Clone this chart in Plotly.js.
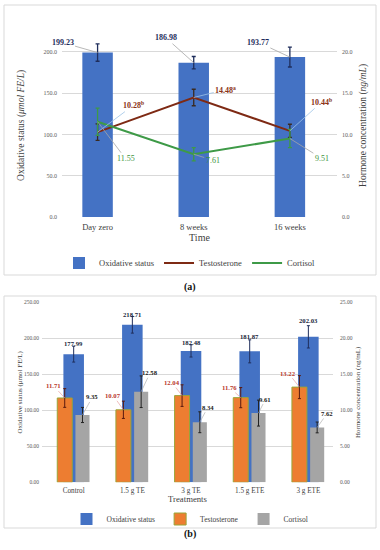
<!DOCTYPE html>
<html>
<head>
<meta charset="utf-8">
<script src="https://cdn.plot.ly/plotly-3.0.1.min.js"></script>
<style>html,body{margin:0;padding:0;background:#fff}#chart{width:380px;height:550px}</style>
</head>
<body>
<div id="chart"></div>
<script>
// ---- Panel (a) data ----
const timeCats = ['Day zero', '8 weeks', '16 weeks'];
const oxA = [199.23, 186.98, 193.77];
const oxAErr = [10.5, 7.5, 12];
const testoA = [10.28, 14.48, 10.44];
const testoAErr = [1.0, 1.0, 0.8];
const testoASup = ['b', 'a', 'b'];
const cortA = [11.55, 7.61, 9.51];
const cortAErr = [1.65, 0.8, 1.1];

// ---- Panel (b) data ----
const treatCats = ['Control', '1.5 g TE', '3 g TE', '1.5 g ETE', '3 g ETE'];
const oxB = [177.99, 218.71, 182.48, 181.87, 202.03];
const oxBErr = [11, 11.5, 8.5, 16, 15.5];
const testoB = [11.71, 10.07, 12.04, 11.76, 13.22];
const testoBErr = [1.3, 1.2, 1.5, 1.4, 1.6];
const cortB = [9.35, 12.58, 8.34, 9.61, 7.62];
const cortBErr = [1.05, 2.2, 1.45, 1.8, 0.75];

const FONT = 'Liberation Serif, Times New Roman, serif';
const BLUE = '#4472C4', ORANGE = '#ED7D31', GRAY = '#A5A5A5';
const BROWN = '#7E2A14', GREEN = '#3E9A47';
const NAVY = '#1F2E5C';

// bar geometry for panel (b) (style only)
const wBlue = 0.35, offBlue = -0.175;
const wOr = 0.255, offOr = -0.28;
const wGr = 0.24, offGr = 0.03;

const traces = [
  {type: 'bar', name: 'Oxidative status', x: timeCats, y: oxA, xaxis: 'x', yaxis: 'y',
   width: 0.317, marker: {color: BLUE},
   error_y: {type: 'data', array: oxAErr, visible: true, color: NAVY, thickness: 1.3, width: 2},
   legend: 'legend'},
  {type: 'scatter', mode: 'lines', name: 'Testosterone', x: timeCats, y: testoA, xaxis: 'x', yaxis: 'y2',
   line: {color: BROWN, width: 2},
   error_y: {type: 'data', array: testoAErr, visible: true, color: '#3a2a20', thickness: 1.3, width: 2},
   legend: 'legend'},
  {type: 'scatter', mode: 'lines', name: 'Cortisol', x: timeCats, y: cortA, xaxis: 'x', yaxis: 'y2',
   line: {color: GREEN, width: 2},
   error_y: {type: 'data', array: cortAErr, visible: true, color: GREEN, thickness: 1.3, width: 2},
   legend: 'legend'},

  {type: 'bar', name: 'Oxidative status', x: treatCats, y: oxB, xaxis: 'x2', yaxis: 'y3',
   width: wBlue, offset: offBlue, marker: {color: BLUE},
   error_y: {type: 'data', array: oxBErr, visible: true, color: NAVY, thickness: 1, width: 1.5},
   legend: 'legend2'},
  {type: 'bar', name: 'Testosterone', x: treatCats, y: testoB, xaxis: 'x2', yaxis: 'y4',
   width: wOr, offset: offOr, marker: {color: ORANGE, line: {color: '#9AA538', width: 1}},
   error_y: {type: 'data', array: testoBErr, visible: true, color: '#5a1a10', thickness: 1, width: 1.5},
   legend: 'legend2'},
  {type: 'bar', name: 'Cortisol', x: treatCats, y: cortB, xaxis: 'x2', yaxis: 'y4',
   width: wGr, offset: offGr, marker: {color: GRAY},
   error_y: {type: 'data', array: cortBErr, visible: true, color: '#222', thickness: 1, width: 1.5},
   legend: 'legend2'}
];

const annotations = [];
// panel (a) labels
const oxAOff = [[-35, -10], [-28, -25], [-32, -15]];
oxA.forEach((v, i) => annotations.push({
  xref: 'x', yref: 'y', x: i, y: v, text: v.toFixed(2), showarrow: true, arrowhead: 0,
  arrowwidth: 0.8, arrowcolor: '#A6A6A6', ax: oxAOff[i][0], ay: oxAOff[i][1],
  font: {family: FONT, size: 8, color: NAVY, weight: 'bold'}
}));
const testoAOff = [[36, -27], [32, -8], [32, -29]];
testoA.forEach((v, i) => annotations.push({
  xref: 'x', yref: 'y2', x: i, y: v, text: v.toFixed(2) + '<sup>' + testoASup[i] + '</sup>',
  showarrow: true, arrowhead: 0, arrowwidth: 0.8, arrowcolor: '#9DC3E6',
  ax: testoAOff[i][0], ay: testoAOff[i][1],
  font: {family: FONT, size: 8, color: '#8A3216', weight: 'bold'}
}));
const cortAOff = [[28, 37], [19, 6], [32, 20]];
cortA.forEach((v, i) => annotations.push({
  xref: 'x', yref: 'y2', x: i, y: v, text: v.toFixed(2), showarrow: true, arrowhead: 0,
  arrowwidth: 0.8, arrowcolor: '#A6A6A6', ax: cortAOff[i][0], ay: cortAOff[i][1],
  font: {family: FONT, size: 8, color: '#3C9440'}
}));

// panel (b) labels
const oxBShift = [11, 10, 8, 15, 16];
oxB.forEach((v, i) => annotations.push({
  xref: 'x2', yref: 'y3', x: i, y: v, text: v.toFixed(2), showarrow: false,
  yshift: oxBShift[i], font: {family: FONT, size: 6.7, color: '#1a1f3a', weight: 'bold'}
}));
const testoBOff = [[-11, -12], [-10, -14], [-10, -13], [-11, -10], [-11, -14]];
testoB.forEach((v, i) => annotations.push({
  xref: 'x2', yref: 'y4', x: i + offOr + wOr / 2, y: v, text: v.toFixed(2), showarrow: true,
  arrowhead: 0, arrowwidth: 0.7, arrowcolor: '#E8A0A0', ax: testoBOff[i][0], ay: testoBOff[i][1],
  font: {family: FONT, size: 6.7, color: '#B8362A', weight: 'bold'}
}));
const cortBOff = [[10, -18], [9, -19], [8, -15], [7, -14], [10, -14]];
cortB.forEach((v, i) => annotations.push({
  xref: 'x2', yref: 'y4', x: i + offGr + wGr / 2, y: v, text: v.toFixed(2), showarrow: true,
  arrowhead: 0, arrowwidth: 0.7, arrowcolor: '#B0B0B0', ax: cortBOff[i][0], ay: cortBOff[i][1],
  font: {family: FONT, size: 6.7, color: '#1a1a1a', weight: 'bold'}
}));

// captions
annotations.push({xref: 'paper', yref: 'paper', x: 0.5, y: 1 - 287 / 550, text: '<b>(a)</b>',
  showarrow: false, font: {family: FONT, size: 10, color: '#111'}});
annotations.push({xref: 'paper', yref: 'paper', x: 0.5, y: 1 - 541.5 / 550, text: '<b>(b)</b>',
  showarrow: false, font: {family: FONT, size: 10, color: '#111'}});

const tickFontA = {family: FONT, size: 6, color: '#595959'};
const tickFontB = {family: FONT, size: 5.5, color: '#595959'};

const layout = {
  width: 380, height: 550,
  margin: {l: 0, r: 0, t: 0, b: 0},
  paper_bgcolor: '#fff', plot_bgcolor: 'rgba(0,0,0,0)',
  barmode: 'overlay',
  font: {family: FONT, color: '#404040'},
  showlegend: true,
  xaxis: {domain: [62 / 380, 337 / 380], anchor: 'y', type: 'category', range: [-0.37, 2.49],
    showgrid: false, zeroline: false, showline: false, ticks: '', ticklabelstandoff: 3,
    tickfont: {family: FONT, size: 8.5, color: '#404040'},
    title: {text: 'Time', font: {family: FONT, size: 10, color: '#404040'}, standoff: 3}},
  yaxis: {domain: [1 - 217 / 550, 1 - 33.8 / 550], anchor: 'x', range: [0, 222],
    tickvals: [0, 50, 100, 150, 200], tickformat: '.1f', gridcolor: '#D9D9D9', gridwidth: 1,
    zeroline: false, showline: false, ticks: '', tickfont: tickFontA, ticklabelstandoff: 4,
    title: {text: 'Oxidative status (<i>μmol FE/L</i>)', font: {family: FONT, size: 9.5, color: '#404040'}, standoff: 17}},
  yaxis2: {overlaying: 'y', side: 'right', anchor: 'x', range: [0, 22.2],
    tickvals: [0, 5, 10, 15, 20], tickformat: '.1f', showgrid: false, zeroline: false,
    ticks: '', tickfont: tickFontA, ticklabelstandoff: 4,
    title: {text: 'Hormone concentration (<i>ng/mL</i>)', font: {family: FONT, size: 9.5, color: '#404040'}, standoff: 7}},

  xaxis2: {domain: [42 / 380, 333 / 380], anchor: 'y3', type: 'category', range: [-0.54, 4.42],
    showgrid: false, zeroline: false, showline: false, ticks: '', ticklabelstandoff: 2,
    tickfont: {family: FONT, size: 7.2, color: '#404040'},
    title: {text: 'Treatments', font: {family: FONT, size: 8.7, color: '#404040'}, standoff: 1}},
  yaxis3: {domain: [1 - 482.3 / 550, 1 - 302.3 / 550], anchor: 'x2', range: [0, 250],
    tickvals: [0, 50, 100, 150, 200, 250], tickformat: '.2f', gridcolor: '#D9D9D9',
    zeroline: false, showline: false, ticks: '', tickfont: tickFontB, ticklabelstandoff: 2,
    title: {text: 'Oxidative status (μmol FE/L)', font: {family: FONT, size: 7, color: '#404040'}, standoff: 0}},
  yaxis4: {overlaying: 'y3', side: 'right', anchor: 'x2', range: [0, 25],
    tickvals: [0, 5, 10, 15, 20, 25], tickformat: '.2f', showgrid: false, zeroline: false,
    ticks: '', tickfont: tickFontB, ticklabelstandoff: 6,
    title: {text: 'Hormone concentration (ng/mL)', font: {family: FONT, size: 7, color: '#404040'}, standoff: 3}},

  legend: {orientation: 'h', x: 0.5, xanchor: 'center', y: 1 - 263 / 550, yanchor: 'middle',
    font: {family: FONT, size: 8.5, color: '#404040'}, bgcolor: 'rgba(0,0,0,0)', itemwidth: 30},
  legend2: {orientation: 'h', x: 0.5, xanchor: 'center', y: 1 - 519 / 550, yanchor: 'middle',
    font: {family: FONT, size: 7.5, color: '#404040'}, bgcolor: 'rgba(0,0,0,0)', itemwidth: 30},

  shapes: [
    {type: 'rect', xref: 'paper', yref: 'paper', x0: 4 / 380, x1: 376 / 380, y0: 1 - 275 / 550, y1: 1 - 5 / 550,
     line: {color: '#D9D9D9', width: 1}, fillcolor: 'rgba(0,0,0,0)', layer: 'below'},
    {type: 'rect', xref: 'paper', yref: 'paper', x0: 4 / 380, x1: 376 / 380, y0: 1 - 528 / 550, y1: 1 - 296 / 550,
     line: {color: '#D9D9D9', width: 1}, fillcolor: 'rgba(0,0,0,0)', layer: 'below'}
  ],
  annotations: annotations
};

Plotly.newPlot('chart', traces, layout, {displayModeBar: false, staticPlot: true});
</script>
</body>
</html>
